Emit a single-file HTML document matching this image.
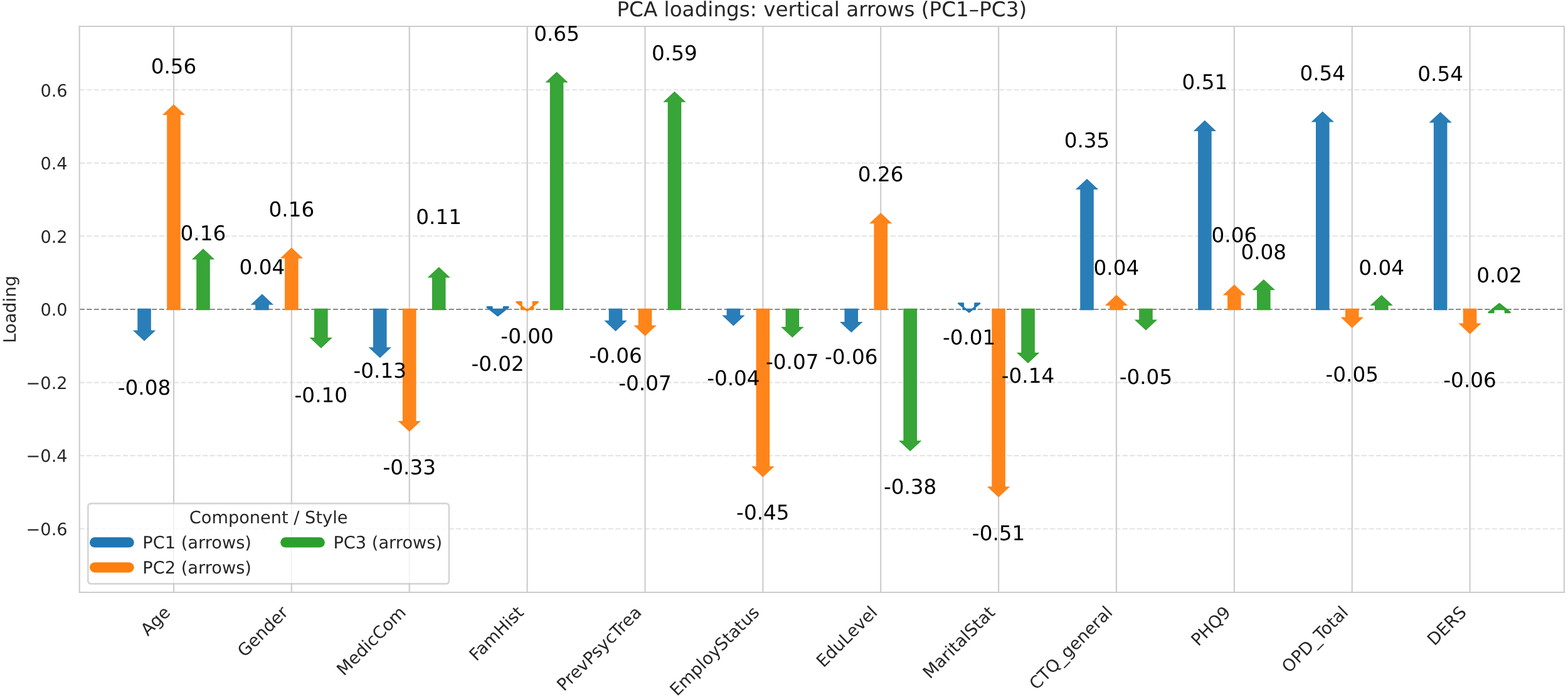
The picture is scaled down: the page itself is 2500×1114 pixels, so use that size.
<!DOCTYPE html>
<html><head><meta charset="utf-8"><title>PCA loadings: vertical arrows (PC1–PC3)</title>
<style>html,body{margin:0;padding:0;background:#fff;overflow:hidden}svg{display:block;text-rendering:geometricPrecision}</style>
</head><body>
<svg width="2500" height="1114" viewBox="0 0 919.117 409.558" version="1.1">
 <defs>
  <style type="text/css">*{stroke-linejoin: round; stroke-linecap: butt}</style>
 </defs>
 <g id="figure_1">
  <g id="patch_1">
   <path d="M 0 409.558 L 919.117 409.558 L 919.117 0 L 0 0 z
" style="fill: #ffffff"/>
  </g>
  <g id="axes_1">
   <g id="patch_2">
    <path d="M 46.580 347.058 L 916.875 347.058 L 916.875 15.441 L 46.580 15.441 z
" style="fill: #ffffff"/>
   </g>
   <g id="matplotlib.axis_1">
    <g id="xtick_1">
     <g id="line2d_1">
      <path d="M 101.837 347.058 L 101.837 15.441 
" clip-path="url(#pf55c641435)" style="fill: none; stroke: #cccccc; stroke-width: 0.8; stroke-linecap: round"/>
     </g>
     <g id="text_1">
      <text style="font-size: 10px; font-family: 'DejaVu Sans', 'Liberation Sans', sans-serif; fill: #262626" transform="translate(86.690 373.108) rotate(-45)">Age</text>
     </g>
    </g>
    <g id="xtick_2">
     <g id="line2d_2">
      <path d="M 170.908 347.058 L 170.908 15.441 
" clip-path="url(#pf55c641435)" style="fill: none; stroke: #cccccc; stroke-width: 0.8; stroke-linecap: round"/>
     </g>
     <g id="text_2">
      <text style="font-size: 10px; font-family: 'DejaVu Sans', 'Liberation Sans', sans-serif; fill: #262626" transform="translate(143.380 385.489) rotate(-45)">Gender</text>
     </g>
    </g>
    <g id="xtick_3">
     <g id="line2d_3">
      <path d="M 239.979 347.058 L 239.979 15.441 
" clip-path="url(#pf55c641435)" style="fill: none; stroke: #cccccc; stroke-width: 0.8; stroke-linecap: round"/>
     </g>
     <g id="text_3">
      <text style="font-size: 10px; font-family: 'DejaVu Sans', 'Liberation Sans', sans-serif; fill: #262626" transform="translate(201.563 396.376) rotate(-45)">MedicCom</text>
     </g>
    </g>
    <g id="xtick_4">
     <g id="line2d_4">
      <path d="M 309.050 347.058 L 309.050 15.441 
" clip-path="url(#pf55c641435)" style="fill: none; stroke: #cccccc; stroke-width: 0.8; stroke-linecap: round"/>
     </g>
     <g id="text_4">
      <text style="font-size: 10px; font-family: 'DejaVu Sans', 'Liberation Sans', sans-serif; fill: #262626" transform="translate(279.199 387.812) rotate(-45)">FamHist</text>
     </g>
    </g>
    <g id="xtick_5">
     <g id="line2d_5">
      <path d="M 378.121 347.058 L 378.121 15.441 
" clip-path="url(#pf55c641435)" style="fill: none; stroke: #cccccc; stroke-width: 0.8; stroke-linecap: round"/>
     </g>
     <g id="text_5">
      <text style="font-size: 10px; font-family: 'DejaVu Sans', 'Liberation Sans', sans-serif; fill: #262626" transform="translate(330.622 405.459) rotate(-45)">PrevPsycTrea</text>
     </g>
    </g>
    <g id="xtick_6">
     <g id="line2d_6">
      <path d="M 447.192 347.058 L 447.192 15.441 
" clip-path="url(#pf55c641435)" style="fill: none; stroke: #cccccc; stroke-width: 0.8; stroke-linecap: round"/>
     </g>
     <g id="text_6">
      <text style="font-size: 10px; font-family: 'DejaVu Sans', 'Liberation Sans', sans-serif; fill: #262626" transform="translate(396.869 408.283) rotate(-45)">EmployStatus</text>
     </g>
    </g>
    <g id="xtick_7">
     <g id="line2d_7">
      <path d="M 516.263 347.058 L 516.263 15.441 
" clip-path="url(#pf55c641435)" style="fill: none; stroke: #cccccc; stroke-width: 0.8; stroke-linecap: round"/>
     </g>
     <g id="text_7">
      <text style="font-size: 10px; font-family: 'DejaVu Sans', 'Liberation Sans', sans-serif; fill: #262626" transform="translate(482.686 391.537) rotate(-45)">EduLevel</text>
     </g>
    </g>
    <g id="xtick_8">
     <g id="line2d_8">
      <path d="M 585.334 347.058 L 585.334 15.441 
" clip-path="url(#pf55c641435)" style="fill: none; stroke: #cccccc; stroke-width: 0.8; stroke-linecap: round"/>
     </g>
     <g id="text_8">
      <text style="font-size: 10px; font-family: 'DejaVu Sans', 'Liberation Sans', sans-serif; fill: #262626" transform="translate(545.122 398.173) rotate(-45)">MaritalStat</text>
     </g>
    </g>
    <g id="xtick_9">
     <g id="line2d_9">
      <path d="M 654.405 347.058 L 654.405 15.441 
" clip-path="url(#pf55c641435)" style="fill: none; stroke: #cccccc; stroke-width: 0.8; stroke-linecap: round"/>
     </g>
     <g id="text_9">
      <text style="font-size: 10px; font-family: 'DejaVu Sans', 'Liberation Sans', sans-serif; fill: #262626" transform="translate(607.503 404.666) rotate(-45)">CTQ_general</text>
     </g>
    </g>
    <g id="xtick_10">
     <g id="line2d_10">
      <path d="M 723.476 347.058 L 723.476 15.441 
" clip-path="url(#pf55c641435)" style="fill: none; stroke: #cccccc; stroke-width: 0.8; stroke-linecap: round"/>
     </g>
     <g id="text_10">
      <text style="font-size: 10px; font-family: 'DejaVu Sans', 'Liberation Sans', sans-serif; fill: #262626" transform="translate(702.359 379.078) rotate(-45)">PHQ9</text>
     </g>
    </g>
    <g id="xtick_11">
     <g id="line2d_11">
      <path d="M 792.547 347.058 L 792.547 15.441 
" clip-path="url(#pf55c641435)" style="fill: none; stroke: #cccccc; stroke-width: 0.8; stroke-linecap: round"/>
     </g>
     <g id="text_11">
      <text style="font-size: 10px; font-family: 'DejaVu Sans', 'Liberation Sans', sans-serif; fill: #262626" transform="translate(755.556 394.755) rotate(-45)">OPD_Total</text>
     </g>
    </g>
    <g id="xtick_12">
     <g id="line2d_12">
      <path d="M 861.618 347.058 L 861.618 15.441 
" clip-path="url(#pf55c641435)" style="fill: none; stroke: #cccccc; stroke-width: 0.8; stroke-linecap: round"/>
     </g>
     <g id="text_12">
      <text style="font-size: 10px; font-family: 'DejaVu Sans', 'Liberation Sans', sans-serif; fill: #262626" transform="translate(840.832 378.746) rotate(-45)">DERS</text>
     </g>
    </g>
   </g>
   <g id="matplotlib.axis_2">
    <g id="ytick_1">
     <g id="line2d_13">
      <path d="M 46.580 309.833 L 916.875 309.833 
" clip-path="url(#pf55c641435)" style="fill: none; stroke-dasharray: 2.96,1.286; stroke-dashoffset: 0; stroke: #cccccc; stroke-opacity: 0.5; stroke-width: 0.8"/>
     </g>
     <g id="text_13">
      <text style="font-size: 10px; font-family: 'DejaVu Sans', 'Liberation Sans', sans-serif; text-anchor: end; fill: #262626" x="39.580" y="313.633" transform="rotate(-0 39.580 313.633)">−0.6</text>
     </g>
    </g>
    <g id="ytick_2">
     <g id="line2d_14">
      <path d="M 46.580 266.972 L 916.875 266.972 
" clip-path="url(#pf55c641435)" style="fill: none; stroke-dasharray: 2.96,1.286; stroke-dashoffset: 0; stroke: #cccccc; stroke-opacity: 0.5; stroke-width: 0.8"/>
     </g>
     <g id="text_14">
      <text style="font-size: 10px; font-family: 'DejaVu Sans', 'Liberation Sans', sans-serif; text-anchor: end; fill: #262626" x="39.580" y="270.771" transform="rotate(-0 39.580 270.771)">−0.4</text>
     </g>
    </g>
    <g id="ytick_3">
     <g id="line2d_15">
      <path d="M 46.580 224.111 L 916.875 224.111 
" clip-path="url(#pf55c641435)" style="fill: none; stroke-dasharray: 2.96,1.286; stroke-dashoffset: 0; stroke: #cccccc; stroke-opacity: 0.5; stroke-width: 0.8"/>
     </g>
     <g id="text_15">
      <text style="font-size: 10px; font-family: 'DejaVu Sans', 'Liberation Sans', sans-serif; text-anchor: end; fill: #262626" x="39.580" y="227.910" transform="rotate(-0 39.580 227.910)">−0.2</text>
     </g>
    </g>
    <g id="ytick_4">
     <g id="line2d_16">
      <path d="M 46.580 181.25 L 916.875 181.25 
" clip-path="url(#pf55c641435)" style="fill: none; stroke-dasharray: 2.96,1.286; stroke-dashoffset: 0; stroke: #cccccc; stroke-opacity: 0.5; stroke-width: 0.8"/>
     </g>
     <g id="text_16">
      <text style="font-size: 10px; font-family: 'DejaVu Sans', 'Liberation Sans', sans-serif; text-anchor: end; fill: #262626" x="39.580" y="185.049" transform="rotate(-0 39.580 185.049)">0.0</text>
     </g>
    </g>
    <g id="ytick_5">
     <g id="line2d_17">
      <path d="M 46.580 138.388 L 916.875 138.388 
" clip-path="url(#pf55c641435)" style="fill: none; stroke-dasharray: 2.96,1.286; stroke-dashoffset: 0; stroke: #cccccc; stroke-opacity: 0.5; stroke-width: 0.8"/>
     </g>
     <g id="text_17">
      <text style="font-size: 10px; font-family: 'DejaVu Sans', 'Liberation Sans', sans-serif; text-anchor: end; fill: #262626" x="39.580" y="142.187" transform="rotate(-0 39.580 142.187)">0.2</text>
     </g>
    </g>
    <g id="ytick_6">
     <g id="line2d_18">
      <path d="M 46.580 95.527 L 916.875 95.527 
" clip-path="url(#pf55c641435)" style="fill: none; stroke-dasharray: 2.96,1.286; stroke-dashoffset: 0; stroke: #cccccc; stroke-opacity: 0.5; stroke-width: 0.8"/>
     </g>
     <g id="text_18">
      <text style="font-size: 10px; font-family: 'DejaVu Sans', 'Liberation Sans', sans-serif; text-anchor: end; fill: #262626" x="39.580" y="99.326" transform="rotate(-0 39.580 99.326)">0.4</text>
     </g>
    </g>
    <g id="ytick_7">
     <g id="line2d_19">
      <path d="M 46.580 52.666 L 916.875 52.666 
" clip-path="url(#pf55c641435)" style="fill: none; stroke-dasharray: 2.96,1.286; stroke-dashoffset: 0; stroke: #cccccc; stroke-opacity: 0.5; stroke-width: 0.8"/>
     </g>
     <g id="text_19">
      <text style="font-size: 10px; font-family: 'DejaVu Sans', 'Liberation Sans', sans-serif; text-anchor: end; fill: #262626" x="39.580" y="56.465" transform="rotate(-0 39.580 56.465)">0.6</text>
     </g>
    </g>
    <g id="text_20">
     <text style="font-size: 10px; font-family: 'DejaVu Sans', 'Liberation Sans', sans-serif; text-anchor: middle; fill: #262626" x="9.218" y="181.25" transform="rotate(-90 9.218 181.25)">Loading</text>
    </g>
   </g>
   <g id="line2d_20">
    <path d="M 46.580 181.25 L 916.875 181.25 
" clip-path="url(#pf55c641435)" style="fill: none; stroke-dasharray: 2.96,1.286; stroke-dashoffset: 0; stroke: #808080; stroke-opacity: 0.9; stroke-width: 0.8"/>
   </g>
   <g id="arrows">
<path d="M84.570 199.816 L77.897 193.529 L80.618 193.529 L80.618 180.790 L88.522 180.790 L88.522 193.529 L91.243 193.529 L84.570 199.816 Z" fill="#1f77b4"/>
<path d="M84.570 199.311 L78.823 193.897 L80.985 193.897 L80.985 181.158 L88.154 181.158 L88.154 193.897 L90.316 193.897 L84.570 199.311 Z" fill="#2a7eb8"/>
<path d="M101.838 61.103 L95.165 67.390 L97.885 67.390 L97.885 181.710 L105.790 181.710 L105.790 67.390 L108.510 67.390 L101.838 61.103 Z" fill="#ff7f0e"/>
<path d="M101.838 61.608 L96.091 67.022 L98.253 67.022 L98.253 181.342 L105.422 181.342 L105.422 67.022 L107.584 67.022 L101.838 61.608 Z" fill="#ff851a"/>
<path d="M119.105 145.699 L112.433 151.985 L115.153 151.985 L115.153 181.710 L123.058 181.710 L123.058 151.985 L125.778 151.985 L119.105 145.699 Z" fill="#2ca02c"/>
<path d="M119.105 146.204 L113.359 151.618 L115.521 151.618 L115.521 181.342 L122.690 181.342 L122.690 151.618 L124.852 151.618 L119.105 146.204 Z" fill="#37a537"/>
<path d="M153.641 172.279 L146.968 178.566 L149.689 178.566 L149.689 181.710 L157.593 181.710 L157.593 178.566 L160.314 178.566 L153.641 172.279 Z" fill="#1f77b4"/>
<path d="M153.641 172.785 L147.894 178.199 L150.056 178.199 L150.056 181.342 L157.225 181.342 L157.225 178.199 L159.387 178.199 L153.641 172.785 Z" fill="#2a7eb8"/>
<path d="M170.909 145.074 L164.236 151.360 L166.956 151.360 L166.956 181.710 L174.861 181.710 L174.861 151.360 L177.581 151.360 L170.909 145.074 Z" fill="#ff7f0e"/>
<path d="M170.909 145.579 L165.162 150.993 L167.324 150.993 L167.324 181.342 L174.493 181.342 L174.493 150.993 L176.655 150.993 L170.909 145.579 Z" fill="#ff851a"/>
<path d="M188.176 204.044 L181.504 197.757 L184.224 197.757 L184.224 180.790 L192.129 180.790 L192.129 197.757 L194.849 197.757 L188.176 204.044 Z" fill="#2ca02c"/>
<path d="M188.176 203.539 L182.430 198.125 L184.592 198.125 L184.592 181.158 L191.761 181.158 L191.761 198.125 L193.923 198.125 L188.176 203.539 Z" fill="#37a537"/>
<path d="M222.712 209.743 L216.039 203.456 L218.760 203.456 L218.760 180.790 L226.664 180.790 L226.664 203.456 L229.385 203.456 L222.712 209.743 Z" fill="#1f77b4"/>
<path d="M222.712 209.238 L216.965 203.824 L219.127 203.824 L219.127 181.158 L226.296 181.158 L226.296 203.824 L228.458 203.824 L222.712 209.238 Z" fill="#2a7eb8"/>
<path d="M239.980 252.941 L233.307 246.654 L236.027 246.654 L236.027 180.790 L243.932 180.790 L243.932 246.654 L246.652 246.654 L239.980 252.941 Z" fill="#ff7f0e"/>
<path d="M239.980 252.436 L234.233 247.022 L236.395 247.022 L236.395 181.158 L243.564 181.158 L243.564 247.022 L245.726 247.022 L239.980 252.436 Z" fill="#ff851a"/>
<path d="M257.247 156.434 L250.575 162.721 L253.295 162.721 L253.295 181.710 L261.200 181.710 L261.200 162.721 L263.920 162.721 L257.247 156.434 Z" fill="#2ca02c"/>
<path d="M257.247 156.939 L251.501 162.353 L253.663 162.353 L253.663 181.342 L260.832 181.342 L260.832 162.353 L262.994 162.353 L257.247 156.939 Z" fill="#37a537"/>
<path d="M291.783 184.926 L285.570 179.926 L288.329 179.926 L288.329 181.250 L295.237 181.250 L295.237 179.926 L297.996 179.926 L291.783 184.926 Z" fill="#2a7eb8" stroke="#1f77b4" stroke-width="1.000" stroke-linejoin="miter" stroke-miterlimit="2"/>
<path d="M309.051 181.985 L302.837 176.985 L305.596 176.985 L305.596 181.250 L312.505 181.250 L312.505 176.985 L315.264 176.985 L309.051 181.985 Z" fill="#ff851a" stroke="#ff7f0e" stroke-width="1.000" stroke-linejoin="miter" stroke-miterlimit="2"/>
<path d="M326.318 42.096 L319.645 48.382 L322.366 48.382 L322.366 181.710 L330.270 181.710 L330.270 48.382 L332.991 48.382 L326.318 42.096 Z" fill="#2ca02c"/>
<path d="M326.318 42.601 L320.572 48.015 L322.734 48.015 L322.734 181.342 L329.903 181.342 L329.903 48.015 L332.065 48.015 L326.318 42.601 Z" fill="#37a537"/>
<path d="M360.854 194.081 L354.181 187.794 L356.902 187.794 L356.902 180.790 L364.806 180.790 L364.806 187.794 L367.527 187.794 L360.854 194.081 Z" fill="#1f77b4"/>
<path d="M360.854 193.576 L355.107 188.162 L357.269 188.162 L357.269 181.158 L364.438 181.158 L364.438 188.162 L366.600 188.162 L360.854 193.576 Z" fill="#2a7eb8"/>
<path d="M378.121 196.875 L371.449 190.588 L374.169 190.588 L374.169 180.790 L382.074 180.790 L382.074 190.588 L384.794 190.588 L378.121 196.875 Z" fill="#ff7f0e"/>
<path d="M378.121 196.370 L372.375 190.956 L374.537 190.956 L374.537 181.158 L381.706 181.158 L381.706 190.956 L383.868 190.956 L378.121 196.370 Z" fill="#ff851a"/>
<path d="M395.389 53.566 L388.716 59.853 L391.437 59.853 L391.437 181.710 L399.341 181.710 L399.341 59.853 L402.062 59.853 L395.389 53.566 Z" fill="#2ca02c"/>
<path d="M395.389 54.071 L389.643 59.485 L391.805 59.485 L391.805 181.342 L398.974 181.342 L398.974 59.485 L401.136 59.485 L395.389 54.071 Z" fill="#37a537"/>
<path d="M429.925 190.993 L423.252 184.706 L425.973 184.706 L425.973 180.790 L433.877 180.790 L433.877 184.706 L436.598 184.706 L429.925 190.993 Z" fill="#1f77b4"/>
<path d="M429.925 190.488 L424.178 185.074 L426.340 185.074 L426.340 181.158 L433.509 181.158 L433.509 185.074 L435.671 185.074 L429.925 190.488 Z" fill="#2a7eb8"/>
<path d="M447.192 279.559 L440.520 273.272 L443.240 273.272 L443.240 180.790 L451.145 180.790 L451.145 273.272 L453.865 273.272 L447.192 279.559 Z" fill="#ff7f0e"/>
<path d="M447.192 279.054 L441.446 273.640 L443.608 273.640 L443.608 181.158 L450.777 181.158 L450.777 273.640 L452.939 273.640 L447.192 279.054 Z" fill="#ff851a"/>
<path d="M464.460 197.794 L457.787 191.507 L460.508 191.507 L460.508 180.790 L468.412 180.790 L468.412 191.507 L471.133 191.507 L464.460 197.794 Z" fill="#2ca02c"/>
<path d="M464.460 197.289 L458.714 191.875 L460.876 191.875 L460.876 181.158 L468.045 181.158 L468.045 191.875 L470.207 191.875 L464.460 197.289 Z" fill="#37a537"/>
<path d="M498.996 194.853 L492.323 188.566 L495.043 188.566 L495.043 180.790 L502.948 180.790 L502.948 188.566 L505.668 188.566 L498.996 194.853 Z" fill="#1f77b4"/>
<path d="M498.996 194.348 L493.249 188.934 L495.411 188.934 L495.411 181.158 L502.580 181.158 L502.580 188.934 L504.742 188.934 L498.996 194.348 Z" fill="#2a7eb8"/>
<path d="M516.263 124.706 L509.591 130.993 L512.311 130.993 L512.311 181.710 L520.216 181.710 L520.216 130.993 L522.936 130.993 L516.263 124.706 Z" fill="#ff7f0e"/>
<path d="M516.263 125.211 L510.517 130.625 L512.679 130.625 L512.679 181.342 L519.848 181.342 L519.848 130.625 L522.010 130.625 L516.263 125.211 Z" fill="#ff851a"/>
<path d="M533.531 264.449 L526.858 258.162 L529.579 258.162 L529.579 180.790 L537.483 180.790 L537.483 258.162 L540.204 258.162 L533.531 264.449 Z" fill="#2ca02c"/>
<path d="M533.531 263.943 L527.785 258.529 L529.947 258.529 L529.947 181.158 L537.116 181.158 L537.116 258.529 L539.278 258.529 L533.531 263.943 Z" fill="#37a537"/>
<path d="M568.067 182.757 L561.853 177.757 L564.613 177.757 L564.613 181.250 L571.521 181.250 L571.521 177.757 L574.280 177.757 L568.067 182.757 Z" fill="#2a7eb8" stroke="#1f77b4" stroke-width="1.000" stroke-linejoin="miter" stroke-miterlimit="2"/>
<path d="M585.334 291.397 L578.662 285.110 L581.382 285.110 L581.382 180.790 L589.287 180.790 L589.287 285.110 L592.007 285.110 L585.334 291.397 Z" fill="#ff7f0e"/>
<path d="M585.334 290.892 L579.588 285.478 L581.750 285.478 L581.750 181.158 L588.919 181.158 L588.919 285.478 L591.081 285.478 L585.334 290.892 Z" fill="#ff851a"/>
<path d="M602.602 212.868 L595.929 206.581 L598.650 206.581 L598.650 180.790 L606.554 180.790 L606.554 206.581 L609.275 206.581 L602.602 212.868 Z" fill="#2ca02c"/>
<path d="M602.602 212.363 L596.856 206.949 L599.018 206.949 L599.018 181.158 L606.187 181.158 L606.187 206.949 L608.349 206.949 L602.602 212.363 Z" fill="#37a537"/>
<path d="M637.138 104.779 L630.465 111.066 L633.185 111.066 L633.185 181.710 L641.090 181.710 L641.090 111.066 L643.810 111.066 L637.138 104.779 Z" fill="#1f77b4"/>
<path d="M637.138 105.285 L631.391 110.699 L633.553 110.699 L633.553 181.342 L640.722 181.342 L640.722 110.699 L642.884 110.699 L637.138 105.285 Z" fill="#2a7eb8"/>
<path d="M654.405 172.721 L647.733 179.007 L650.453 179.007 L650.453 181.710 L658.358 181.710 L658.358 179.007 L661.078 179.007 L654.405 172.721 Z" fill="#ff7f0e"/>
<path d="M654.405 173.226 L648.659 178.640 L650.821 178.640 L650.821 181.342 L657.990 181.342 L657.990 178.640 L660.152 178.640 L654.405 173.226 Z" fill="#ff851a"/>
<path d="M671.673 193.603 L665.000 187.316 L667.721 187.316 L667.721 180.790 L675.625 180.790 L675.625 187.316 L678.346 187.316 L671.673 193.603 Z" fill="#2ca02c"/>
<path d="M671.673 193.098 L665.927 187.684 L668.089 187.684 L668.089 181.158 L675.258 181.158 L675.258 187.684 L677.420 187.684 L671.673 193.098 Z" fill="#37a537"/>
<path d="M706.209 70.515 L699.536 76.801 L702.256 76.801 L702.256 181.710 L710.161 181.710 L710.161 76.801 L712.881 76.801 L706.209 70.515 Z" fill="#1f77b4"/>
<path d="M706.209 71.020 L700.462 76.434 L702.624 76.434 L702.624 181.342 L709.793 181.342 L709.793 76.434 L711.955 76.434 L706.209 71.020 Z" fill="#2a7eb8"/>
<path d="M723.476 166.691 L716.804 172.978 L719.524 172.978 L719.524 181.710 L727.429 181.710 L727.429 172.978 L730.149 172.978 L723.476 166.691 Z" fill="#ff7f0e"/>
<path d="M723.476 167.196 L717.730 172.610 L719.892 172.610 L719.892 181.342 L727.061 181.342 L727.061 172.610 L729.223 172.610 L723.476 167.196 Z" fill="#ff851a"/>
<path d="M740.744 163.676 L734.071 169.963 L736.792 169.963 L736.792 181.710 L744.696 181.710 L744.696 169.963 L747.417 169.963 L740.744 163.676 Z" fill="#2ca02c"/>
<path d="M740.744 164.182 L734.998 169.596 L737.159 169.596 L737.159 181.342 L744.329 181.342 L744.329 169.596 L746.490 169.596 L740.744 164.182 Z" fill="#37a537"/>
<path d="M775.280 65.221 L768.607 71.507 L771.327 71.507 L771.327 181.710 L779.232 181.710 L779.232 71.507 L781.952 71.507 L775.280 65.221 Z" fill="#1f77b4"/>
<path d="M775.280 65.726 L769.533 71.140 L771.695 71.140 L771.695 181.342 L778.864 181.342 L778.864 71.140 L781.026 71.140 L775.280 65.726 Z" fill="#2a7eb8"/>
<path d="M792.547 192.169 L785.874 185.882 L788.595 185.882 L788.595 180.790 L796.499 180.790 L796.499 185.882 L799.220 185.882 L792.547 192.169 Z" fill="#ff7f0e"/>
<path d="M792.547 191.664 L786.801 186.250 L788.963 186.250 L788.963 181.158 L796.132 181.158 L796.132 186.250 L798.294 186.250 L792.547 191.664 Z" fill="#ff851a"/>
<path d="M809.815 172.794 L803.142 179.081 L805.863 179.081 L805.863 181.710 L813.767 181.710 L813.767 179.081 L816.488 179.081 L809.815 172.794 Z" fill="#2ca02c"/>
<path d="M809.815 173.299 L804.069 178.713 L806.230 178.713 L806.230 181.342 L813.400 181.342 L813.400 178.713 L815.561 178.713 L809.815 173.299 Z" fill="#37a537"/>
<path d="M844.350 65.588 L837.678 71.875 L840.398 71.875 L840.398 181.710 L848.303 181.710 L848.303 71.875 L851.023 71.875 L844.350 65.588 Z" fill="#1f77b4"/>
<path d="M844.350 66.093 L838.604 71.507 L840.766 71.507 L840.766 181.342 L847.935 181.342 L847.935 71.507 L850.097 71.507 L844.350 66.093 Z" fill="#2a7eb8"/>
<path d="M861.618 195.735 L854.945 189.449 L857.666 189.449 L857.666 180.790 L865.570 180.790 L865.570 189.449 L868.291 189.449 L861.618 195.735 Z" fill="#ff7f0e"/>
<path d="M861.618 195.230 L855.872 189.816 L858.034 189.816 L858.034 181.158 L865.203 181.158 L865.203 189.816 L867.365 189.816 L861.618 195.230 Z" fill="#ff851a"/>
<path d="M878.886 178.015 L872.673 183.015 L875.432 183.015 L875.432 181.250 L882.340 181.250 L882.340 183.015 L885.099 183.015 L878.886 178.015 Z" fill="#37a537" stroke="#2ca02c" stroke-width="1.000" stroke-linejoin="miter" stroke-miterlimit="2"/>
</g>
<g id="patch_39">
    <path d="M 46.580 347.058 L 46.580 15.441 
" style="fill: none; stroke: #cccccc; stroke-width: 0.8; stroke-linejoin: miter; stroke-linecap: square"/>
   </g>
   <g id="patch_40">
    <path d="M 916.875 347.058 L 916.875 15.441 
" style="fill: none; stroke: #cccccc; stroke-width: 0.8; stroke-linejoin: miter; stroke-linecap: square"/>
   </g>
   <g id="patch_41">
    <path d="M 46.580 347.058 L 916.875 347.058 
" style="fill: none; stroke: #cccccc; stroke-width: 0.8; stroke-linejoin: miter; stroke-linecap: square"/>
   </g>
   <g id="patch_42">
    <path d="M 46.580 15.441 L 916.875 15.441 
" style="fill: none; stroke: #cccccc; stroke-width: 0.8; stroke-linejoin: miter; stroke-linecap: square"/>
   </g>
   <g id="text_21">
    <text style="font-size: 12px; font-family: 'DejaVu Sans', 'Liberation Sans', sans-serif; text-anchor: middle" x="84.569" y="231.368" transform="rotate(-0 84.569 231.368)">-0.08</text>
   </g>
   <g id="text_22">
    <text style="font-size: 12px; font-family: 'DejaVu Sans', 'Liberation Sans', sans-serif; text-anchor: middle" x="101.837" y="42.850" transform="rotate(-0 101.837 42.850)">0.56</text>
   </g>
   <g id="text_23">
    <text style="font-size: 12px; font-family: 'DejaVu Sans', 'Liberation Sans', sans-serif; text-anchor: middle" x="119.105" y="140.748" transform="rotate(-0 119.105 140.748)">0.16</text>
   </g>
   <g id="text_24">
    <text style="font-size: 12px; font-family: 'DejaVu Sans', 'Liberation Sans', sans-serif; text-anchor: middle" x="153.640" y="160.637" transform="rotate(-0 153.640 160.637)">0.04</text>
   </g>
   <g id="text_25">
    <text style="font-size: 12px; font-family: 'DejaVu Sans', 'Liberation Sans', sans-serif; text-anchor: middle" x="170.908" y="126.999" transform="rotate(-0 170.908 126.999)">0.16</text>
   </g>
   <g id="text_26">
    <text style="font-size: 12px; font-family: 'DejaVu Sans', 'Liberation Sans', sans-serif; text-anchor: middle" x="188.176" y="235.595" transform="rotate(-0 188.176 235.595)">-0.10</text>
   </g>
   <g id="text_27">
    <text style="font-size: 12px; font-family: 'DejaVu Sans', 'Liberation Sans', sans-serif; text-anchor: middle" x="222.711" y="221.479" transform="rotate(-0 222.711 221.479)">-0.13</text>
   </g>
   <g id="text_28">
    <text style="font-size: 12px; font-family: 'DejaVu Sans', 'Liberation Sans', sans-serif; text-anchor: middle" x="239.979" y="277.835" transform="rotate(-0 239.979 277.835)">-0.33</text>
   </g>
   <g id="text_29">
    <text style="font-size: 12px; font-family: 'DejaVu Sans', 'Liberation Sans', sans-serif; text-anchor: middle" x="257.247" y="131.411" transform="rotate(-0 257.247 131.411)">0.11</text>
   </g>
   <g id="text_30">
    <text style="font-size: 12px; font-family: 'DejaVu Sans', 'Liberation Sans', sans-serif; text-anchor: middle" x="291.782" y="217.324" transform="rotate(-0 291.782 217.324)">-0.02</text>
   </g>
   <g id="text_31">
    <text style="font-size: 12px; font-family: 'DejaVu Sans', 'Liberation Sans', sans-serif; text-anchor: middle" x="309.050" y="201.075" transform="rotate(-0 309.050 201.075)">-0.00</text>
   </g>
   <g id="text_32">
    <text style="font-size: 12px; font-family: 'DejaVu Sans', 'Liberation Sans', sans-serif; text-anchor: middle" x="326.318" y="23.991" transform="rotate(-0 326.318 23.991)">0.65</text>
   </g>
   <g id="text_33">
    <text style="font-size: 12px; font-family: 'DejaVu Sans', 'Liberation Sans', sans-serif; text-anchor: middle" x="360.853" y="212.362" transform="rotate(-0 360.853 212.362)">-0.06</text>
   </g>
   <g id="text_34">
    <text style="font-size: 12px; font-family: 'DejaVu Sans', 'Liberation Sans', sans-serif; text-anchor: middle" x="378.121" y="228.537" transform="rotate(-0 378.121 228.537)">-0.07</text>
   </g>
   <g id="text_35">
    <text style="font-size: 12px; font-family: 'DejaVu Sans', 'Liberation Sans', sans-serif; text-anchor: middle" x="395.389" y="35.314" transform="rotate(-0 395.389 35.314)">0.59</text>
   </g>
   <g id="text_36">
    <text style="font-size: 12px; font-family: 'DejaVu Sans', 'Liberation Sans', sans-serif; text-anchor: middle" x="429.924" y="225.706" transform="rotate(-0 429.924 225.706)">-0.04</text>
   </g>
   <g id="text_37">
    <text style="font-size: 12px; font-family: 'DejaVu Sans', 'Liberation Sans', sans-serif; text-anchor: middle" x="447.192" y="304.562" transform="rotate(-0 447.192 304.562)">-0.45</text>
   </g>
   <g id="text_38">
    <text style="font-size: 12px; font-family: 'DejaVu Sans', 'Liberation Sans', sans-serif; text-anchor: middle" x="464.460" y="216.001" transform="rotate(-0 464.460 216.001)">-0.07</text>
   </g>
   <g id="text_39">
    <text style="font-size: 12px; font-family: 'DejaVu Sans', 'Liberation Sans', sans-serif; text-anchor: middle" x="498.995" y="213.244" transform="rotate(-0 498.995 213.244)">-0.06</text>
   </g>
   <g id="text_40">
    <text style="font-size: 12px; font-family: 'DejaVu Sans', 'Liberation Sans', sans-serif; text-anchor: middle" x="516.263" y="106.302" transform="rotate(-0 516.263 106.302)">0.26</text>
   </g>
   <g id="text_41">
    <text style="font-size: 12px; font-family: 'DejaVu Sans', 'Liberation Sans', sans-serif; text-anchor: middle" x="533.531" y="289.195" transform="rotate(-0 533.531 289.195)">-0.38</text>
   </g>
   <g id="text_42">
    <text style="font-size: 12px; font-family: 'DejaVu Sans', 'Liberation Sans', sans-serif; text-anchor: middle" x="568.066" y="201.958" transform="rotate(-0 568.066 201.958)">-0.01</text>
   </g>
   <g id="text_43">
    <text style="font-size: 12px; font-family: 'DejaVu Sans', 'Liberation Sans', sans-serif; text-anchor: middle" x="585.334" y="316.546" transform="rotate(-0 585.334 316.546)">-0.51</text>
   </g>
   <g id="text_44">
    <text style="font-size: 12px; font-family: 'DejaVu Sans', 'Liberation Sans', sans-serif; text-anchor: middle" x="602.602" y="224.420" transform="rotate(-0 602.602 224.420)">-0.14</text>
   </g>
   <g id="text_45">
    <text style="font-size: 12px; font-family: 'DejaVu Sans', 'Liberation Sans', sans-serif; text-anchor: middle" x="637.137" y="86.377" transform="rotate(-0 637.137 86.377)">0.35</text>
   </g>
   <g id="text_46">
    <text style="font-size: 12px; font-family: 'DejaVu Sans', 'Liberation Sans', sans-serif; text-anchor: middle" x="654.405" y="160.894" transform="rotate(-0 654.405 160.894)">0.04</text>
   </g>
   <g id="text_47">
    <text style="font-size: 12px; font-family: 'DejaVu Sans', 'Liberation Sans', sans-serif; text-anchor: middle" x="671.673" y="225.081" transform="rotate(-0 671.673 225.081)">-0.05</text>
   </g>
   <g id="text_48">
    <text style="font-size: 12px; font-family: 'DejaVu Sans', 'Liberation Sans', sans-serif; text-anchor: middle" x="706.208" y="52.225" transform="rotate(-0 706.208 52.225)">0.51</text>
   </g>
   <g id="text_49">
    <text style="font-size: 12px; font-family: 'DejaVu Sans', 'Liberation Sans', sans-serif; text-anchor: middle" x="723.476" y="141.741" transform="rotate(-0 723.476 141.741)">0.06</text>
   </g>
   <g id="text_50">
    <text style="font-size: 12px; font-family: 'DejaVu Sans', 'Liberation Sans', sans-serif; text-anchor: middle" x="740.744" y="151.740" transform="rotate(-0 740.744 151.740)">0.08</text>
   </g>
   <g id="text_51">
    <text style="font-size: 12px; font-family: 'DejaVu Sans', 'Liberation Sans', sans-serif; text-anchor: middle" x="775.279" y="46.931" transform="rotate(-0 775.279 46.931)">0.54</text>
   </g>
   <g id="text_52">
    <text style="font-size: 12px; font-family: 'DejaVu Sans', 'Liberation Sans', sans-serif; text-anchor: middle" x="792.547" y="223.684" transform="rotate(-0 792.547 223.684)">-0.05</text>
   </g>
   <g id="text_53">
    <text style="font-size: 12px; font-family: 'DejaVu Sans', 'Liberation Sans', sans-serif; text-anchor: middle" x="809.815" y="161.115" transform="rotate(-0 809.815 161.115)">0.04</text>
   </g>
   <g id="text_54">
    <text style="font-size: 12px; font-family: 'DejaVu Sans', 'Liberation Sans', sans-serif; text-anchor: middle" x="844.350" y="47.298" transform="rotate(-0 844.350 47.298)">0.54</text>
   </g>
   <g id="text_55">
    <text style="font-size: 12px; font-family: 'DejaVu Sans', 'Liberation Sans', sans-serif; text-anchor: middle" x="861.618" y="226.993" transform="rotate(-0 861.618 226.993)">-0.06</text>
   </g>
   <g id="text_56">
    <text style="font-size: 12px; font-family: 'DejaVu Sans', 'Liberation Sans', sans-serif; text-anchor: middle" x="878.885" y="165.526" transform="rotate(-0 878.885 165.526)">0.02</text>
   </g>
   <g id="text_57">
    <text style="font-size: 12px; font-family: 'DejaVu Sans', 'Liberation Sans', sans-serif; text-anchor: middle; fill: #262626" x="481.727" y="9.441" transform="rotate(-0 481.727 9.441)">PCA loadings: vertical arrows (PC1–PC3)</text>
   </g>
   <g id="legend_1">
    <g id="patch_43">
     <path d="M 53.580 342.058 L 261.205 342.058 Q 263.205 342.058 263.205 340.058 L 263.205 297.024 Q 263.205 295.024 261.205 295.024 L 53.580 295.024 Q 51.580 295.024 51.580 297.024 L 51.580 340.058 Q 51.580 342.058 53.580 342.058 z
" style="fill: #ffffff; opacity: 0.8; stroke: #cccccc; stroke-linejoin: miter"/>
    </g>
    <g id="text_58">
     <text style="font-size: 10px; font-family: 'DejaVu Sans', 'Liberation Sans', sans-serif; text-anchor: start; fill: #262626" x="110.942" y="306.622" transform="rotate(-0 110.942 306.622)">Component / Style</text>
    </g>
    <g id="line2d_21">
     <path d="M 55.580 317.801 L 65.580 317.801 L 75.580 317.801 
" style="fill: none; stroke: #1f77b4; stroke-width: 6; stroke-linecap: round"/>
    </g>
    <g id="text_59">
     <text style="font-size: 10px; font-family: 'DejaVu Sans', 'Liberation Sans', sans-serif; text-anchor: start; fill: #262626" x="83.580" y="321.301" transform="rotate(-0 83.580 321.301)">PC1 (arrows)</text>
    </g>
    <g id="line2d_22">
     <path d="M 55.580 332.479 L 65.580 332.479 L 75.580 332.479 
" style="fill: none; stroke: #ff7f0e; stroke-width: 6; stroke-linecap: round"/>
    </g>
    <g id="text_60">
     <text style="font-size: 10px; font-family: 'DejaVu Sans', 'Liberation Sans', sans-serif; text-anchor: start; fill: #262626" x="83.580" y="335.979" transform="rotate(-0 83.580 335.979)">PC2 (arrows)</text>
    </g>
    <g id="line2d_23">
     <path d="M 167.393 317.801 L 177.393 317.801 L 187.393 317.801 
" style="fill: none; stroke: #2ca02c; stroke-width: 6; stroke-linecap: round"/>
    </g>
    <g id="text_61">
     <text style="font-size: 10px; font-family: 'DejaVu Sans', 'Liberation Sans', sans-serif; text-anchor: start; fill: #262626" x="195.393" y="321.301" transform="rotate(-0 195.393 321.301)">PC3 (arrows)</text>
    </g>
   </g>
  </g>
 </g>
 <defs>
  <clipPath id="pf55c641435">
   <rect x="46.580" y="15.441" width="870.294" height="331.617"/>
  </clipPath>
 </defs>
</svg>

</body></html>
